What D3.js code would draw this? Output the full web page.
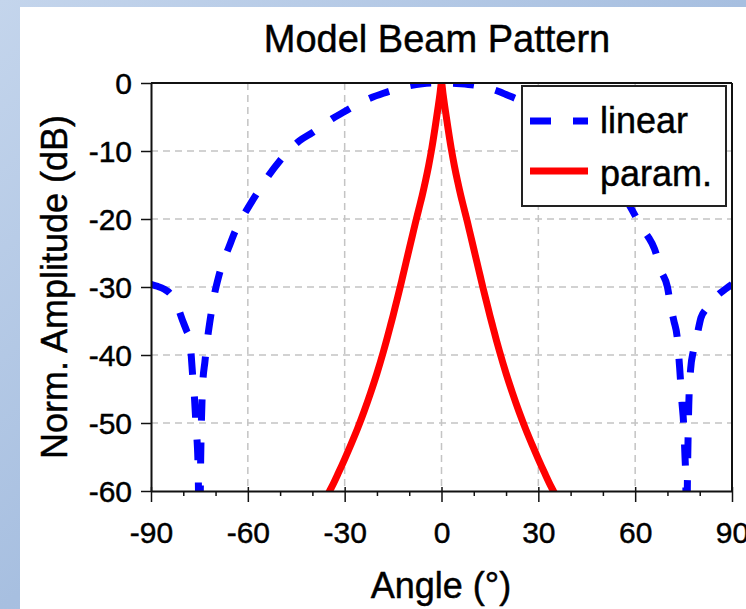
<!DOCTYPE html>
<html>
<head>
<meta charset="utf-8">
<script src="https://cdn.jsdelivr.net/npm/d3@7"></script>
<style>
  html, body { margin: 0; padding: 0; }
  body { width: 746px; height: 609px; overflow: hidden; }
  svg { display: block; font-family: "Liberation Sans", Arial, sans-serif; }
  text { stroke: #000; stroke-width: 0.45px; }
</style>
</head>
<body>
<svg id="chart" width="746" height="609"></svg>
<script>
// ---------- data ----------
const chartTitle = "Model Beam Pattern";
const xLabel = "Angle (°)";
const yLabel = "Norm. Amplitude (dB)";
const seriesNames = ["linear", "param."];

const xTickValues = [-90, -60, -30, 0, 30, 60, 90];
const xMinorTickValues = [-80, -70, -50, -40, -20, -10, 10, 20, 40, 50, 70, 80];
const yTickValues = [0, -10, -20, -30, -40, -50, -60];

// linear transducer pattern (angle in degrees, amplitude in dB)
const linearAngles = [
  -90, -88, -86, -84, -82, -80, -79, -78, -77.1, -76.5, -76.1, -75.4, -75,
  -74.6, -74, -73.3, -72.6, -71.6, -70.6, -69, -67.1, -66, -64, -62, -60,
  -57, -54, -50, -47, -44, -40, -37, -34, -30, -26, -22, -18, -14, -10, -6, -2,
  0, 2, 6, 10, 14, 18, 20, 24, 28, 32, 36, 40, 44, 48, 52, 56, 60, 62, 64, 66,
  68, 70, 71, 72, 73, 73.8, 74.5, 75, 75.4, 75.7, 75.9,
  76.2, 76.6, 77.2, 78, 79, 80.4, 82, 84, 86, 88, 90
];
const linearDb = [
  -29.6, -29.9, -30.3, -31.0, -32.6, -35.2, -36.4, -37.7, -43.0, -46.5, -50.0, -56.5, -70,
  -55.0, -44.5, -41.0, -38.0, -34.6, -31.7, -28.4, -25.6, -24.3, -21.9, -20.0, -18.4,
  -16.1, -13.9, -11.4, -9.8, -8.5, -7.3, -6.3, -5.3, -4.2, -3.1, -2.2, -1.5, -0.9, -0.4, -0.1, 0,
  0, 0, -0.1, -0.3, -0.7, -1.3, -1.7, -2.5, -3.5, -4.7, -6.0, -7.5, -9.2, -11.2, -13.5, -16.2, -19.5, -21.3, -22.6, -24.4,
  -27.6, -30.0, -32.8, -35.0, -37.3, -42.0, -47.0, -50.0, -54.5, -59.0, -70,
  -58.0, -47.5, -42.0, -39.5, -37.5, -34.5, -33.2, -32.0, -31.0, -30.3, -29.6
];

// parametric array pattern
const paramAngles = [
  -35, -34, -32, -30, -28, -26, -24, -22, -20, -18, -17, -16, -15, -14, -13, -12, -11, -10,
  -9, -8, -7, -6, -5, -4, -3, -2, -1, -0.5, 0, 0.5, 1, 2, 3, 4, 5, 6, 7, 8, 9,
  10, 11, 12, 13, 14, 15, 16, 17, 18, 20, 22, 24, 26, 28, 30, 32, 34, 35
];
const paramDb = [
  -60.3, -59.4, -57.4, -55.3, -53.1, -50.8, -48.3, -45.6, -42.7, -39.5, -37.8, -36.0, -34.2, -32.3, -30.4, -28.4, -26.4, -24.4,
  -22.4, -20.4, -18.5, -16.6, -14.5, -12.2, -9.6, -6.6, -3.4, -1.7, 0, -1.7, -3.4, -6.6, -9.6, -12.2, -14.5, -16.6, -18.5, -20.4, -22.4,
  -24.4, -26.4, -28.4, -30.4, -32.3, -34.2, -36.0, -37.8, -39.5, -42.7, -45.6, -48.3, -50.8, -53.1, -55.3, -57.4, -59.4, -60.3
];

// ---------- layout ----------
const svg = d3.select("#chart");
const pLeft = 151, pRight = 732, pTop = 83, pBottom = 491;

const x = d3.scaleLinear().domain([-90, 90]).range([pLeft, pRight]);
const y = d3.scaleLinear().domain([-60, 0]).range([pBottom, pTop]);

// background (slide gradient + white panel)
const defs = svg.append("defs");
const grad = defs.append("linearGradient").attr("id", "bg")
  .attr("x1", "0%").attr("y1", "0%").attr("x2", "100%").attr("y2", "100%");
grad.append("stop").attr("offset", "0%").attr("stop-color", "#c4d5ec");
grad.append("stop").attr("offset", "50%").attr("stop-color", "#a7bfe0");
grad.append("stop").attr("offset", "100%").attr("stop-color", "#b4c8e6");
svg.append("rect").attr("width", 746).attr("height", 609).attr("fill", "url(#bg)");
svg.append("rect").attr("x", 20).attr("y", 7).attr("width", 726).attr("height", 602).attr("fill", "#ffffff");

defs.append("clipPath").attr("id", "plotclip")
  .append("rect").attr("x", pLeft).attr("y", pTop).attr("width", pRight - pLeft).attr("height", pBottom - pTop);

// grid
const grid = svg.append("g").attr("stroke", "#c4c4c4").attr("stroke-width", 1.5)
  .attr("stroke-dasharray", "7,5");
grid.selectAll("line.v").data(xTickValues.filter(d => d > -90 && d < 90)).join("line")
  .attr("class", "v")
  .attr("x1", d => x(d)).attr("x2", d => x(d))
  .attr("y1", y(0)).attr("y2", y(-60));
grid.selectAll("line.h").data(yTickValues.filter(d => d < 0 && d > -60)).join("line")
  .attr("class", "h")
  .attr("x1", x(-90)).attr("x2", x(90))
  .attr("y1", d => y(d)).attr("y2", d => y(d));

// curves
const plot = svg.append("g").attr("clip-path", "url(#plotclip)");
const line = d3.line().x(d => x(d[0])).y(d => y(d[1])).curve(d3.curveMonotoneX);

const linearPts = linearAngles.map((a, i) => [a, linearDb[i]]);
const paramPts = paramAngles.map((a, i) => [a, paramDb[i]]);

plot.append("path").datum(linearPts)
  .attr("d", line).attr("fill", "none")
  .attr("stroke", "#0000ff").attr("stroke-width", 7)
  .attr("stroke-dasharray", "21,22");

plot.append("path").datum(paramPts)
  .attr("d", line).attr("fill", "none")
  .attr("stroke", "#ff0000").attr("stroke-width", 7)
  .attr("stroke-linejoin", "round");

// frame (top & right)
svg.append("line").attr("x1", pLeft).attr("x2", pRight).attr("y1", pTop).attr("y2", pTop)
  .attr("stroke", "#111").attr("stroke-width", 2);
svg.append("line").attr("x1", pRight).attr("x2", pRight).attr("y1", pTop).attr("y2", pBottom)
  .attr("stroke", "#111").attr("stroke-width", 2);

// x axis
const xAxisG = svg.append("g").attr("transform", `translate(0,${pBottom})`)
  .call(d3.axisBottom(x).tickValues(xTickValues).tickSizeInner(11).tickSizeOuter(0)
    .tickFormat(d3.format("d")));
xAxisG.select(".domain").attr("stroke", "#111").attr("stroke-width", 2);
xAxisG.selectAll(".tick line").attr("y1", -4).attr("stroke", "#111").attr("stroke-width", 1.5);
xAxisG.selectAll(".tick text").attr("y", 52).attr("dy", 0)
  .attr("font-size", 30).attr("fill", "#000").attr("font-family", "Liberation Sans, Arial, sans-serif")
  .text(d => d < 0 ? "-" + Math.abs(d) : d);

const xMinorG = svg.append("g").attr("transform", `translate(0,${pBottom})`)
  .call(d3.axisBottom(x).tickValues(xMinorTickValues).tickSizeInner(5).tickSizeOuter(0).tickFormat(""));
xMinorG.select(".domain").remove();
xMinorG.selectAll(".tick line").attr("stroke", "#111").attr("stroke-width", 1.5);

// y axis
const yAxisG = svg.append("g").attr("transform", `translate(${pLeft},0)`)
  .call(d3.axisLeft(y).tickValues(yTickValues).tickSizeInner(10).tickSizeOuter(0).tickPadding(9));
yAxisG.select(".domain").attr("stroke", "#111").attr("stroke-width", 2);
yAxisG.selectAll(".tick line").attr("stroke", "#111").attr("stroke-width", 1.5);
yAxisG.selectAll(".tick text").attr("dy", "0.35em")
  .attr("font-size", 30).attr("fill", "#000").attr("font-family", "Liberation Sans, Arial, sans-serif")
  .text(d => d < 0 ? "-" + Math.abs(d) : d);

// title and labels
svg.append("text").attr("x", 437).attr("y", 52).attr("text-anchor", "middle")
  .attr("font-size", 38).attr("fill", "#000").text(chartTitle);
svg.append("text").attr("x", 441).attr("y", 598).attr("text-anchor", "middle")
  .attr("font-size", 36).attr("fill", "#000").text(xLabel);
svg.append("text").attr("transform", `translate(67,${(pTop + pBottom) / 2}) rotate(-90)`)
  .attr("text-anchor", "middle").attr("font-size", 36).attr("fill", "#000").text(yLabel);

// legend
const lg = svg.append("g");
lg.append("rect").attr("x", 522).attr("y", 86).attr("width", 204).attr("height", 120)
  .attr("fill", "#fff").attr("stroke", "#222").attr("stroke-width", 2);
const legendStyles = [
  { color: "#0000ff", dash: "21,22", ly: 121, ty: 133 },
  { color: "#ff0000", dash: null, ly: 171, ty: 186 }
];
seriesNames.forEach((name, i) => {
  const s = legendStyles[i];
  lg.append("line").attr("x1", 530).attr("x2", 588).attr("y1", s.ly).attr("y2", s.ly)
    .attr("stroke", s.color).attr("stroke-width", 7)
    .attr("stroke-dasharray", s.dash);
  lg.append("text").attr("x", 600).attr("y", s.ty).attr("font-size", 36).attr("fill", "#000").text(name);
});
</script>
</body>
</html>
